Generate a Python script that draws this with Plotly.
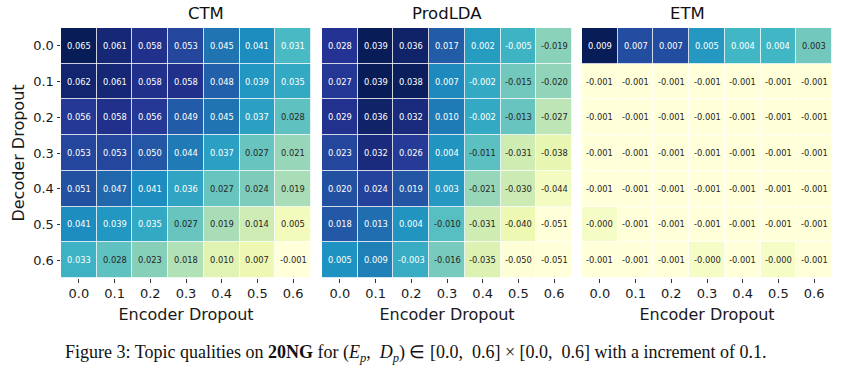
import plotly.graph_objects as go

dropouts = ["0.0", "0.1", "0.2", "0.3", "0.4", "0.5", "0.6"]
titles = ["CTM", "ProdLDA", "ETM"]

ctm = [
    [0.065, 0.061, 0.058, 0.053, 0.045, 0.041, 0.031],
    [0.062, 0.061, 0.058, 0.058, 0.048, 0.039, 0.035],
    [0.056, 0.058, 0.056, 0.049, 0.045, 0.037, 0.028],
    [0.053, 0.053, 0.050, 0.044, 0.037, 0.027, 0.021],
    [0.051, 0.047, 0.041, 0.036, 0.027, 0.024, 0.019],
    [0.041, 0.039, 0.035, 0.027, 0.019, 0.014, 0.005],
    [0.033, 0.028, 0.023, 0.018, 0.010, 0.007, -0.001],
]
prodlda = [
    [0.028, 0.039, 0.036, 0.017, 0.002, -0.005, -0.019],
    [0.027, 0.039, 0.038, 0.007, -0.002, -0.015, -0.020],
    [0.029, 0.036, 0.032, 0.010, -0.002, -0.013, -0.027],
    [0.023, 0.032, 0.026, 0.004, -0.011, -0.031, -0.038],
    [0.020, 0.024, 0.019, 0.003, -0.021, -0.030, -0.044],
    [0.018, 0.013, 0.004, -0.010, -0.031, -0.040, -0.051],
    [0.005, 0.009, -0.003, -0.016, -0.035, -0.050, -0.051],
]
etm = [
    [0.009, 0.007, 0.007, 0.005, 0.004, 0.004, 0.003],
    [-0.001, -0.001, -0.001, -0.001, -0.001, -0.001, -0.001],
    [-0.001, -0.001, -0.001, -0.001, -0.001, -0.001, -0.001],
    [-0.001, -0.001, -0.001, -0.001, -0.001, -0.001, -0.001],
    [-0.001, -0.001, -0.001, -0.001, -0.001, -0.001, -0.001],
    [-0.0004, -0.001, -0.001, -0.001, -0.001, -0.001, -0.001],
    [-0.001, -0.001, -0.001, -0.0004, -0.001, -0.0004, -0.001],
]
panels = [ctm, prodlda, etm]

ylgnbu = ["#ffffd9", "#edf8b1", "#c7e9b4", "#7fcdbb", "#41b6c4",
          "#1d91c0", "#225ea8", "#253494", "#081d58"]
colorscale = [[i / 8, c] for i, c in enumerate(ylgnbu)]


def hex2rgb(h):
    return tuple(int(h[i:i + 2], 16) / 255 for i in (1, 3, 5))


def interp(t):
    t = min(max(t, 0), 1) * 8
    i = min(int(t), 7)
    f = t - i
    a, b = hex2rgb(ylgnbu[i]), hex2rgb(ylgnbu[i + 1])
    return [a[k] + (b[k] - a[k]) * f for k in range(3)]


def lum(rgb):
    out = []
    for c in rgb:
        out.append(c / 12.92 if c <= 0.03928 else ((c + 0.055) / 1.055) ** 2.4)
    return 0.2126 * out[0] + 0.7152 * out[1] + 0.0722 * out[2]


W, H = 846, 372
xdoms = [(61, 311), (322, 572), (582, 832)]
ytop, ybot = 28, 278
ydom = [1 - ybot / H, 1 - ytop / H]

fig = go.Figure()
annotations = []
FONT = "DejaVu Sans"

for k, data in enumerate(panels):
    flat = [v for row in data for v in row]
    zmin, zmax = min(flat), max(flat)
    xa = "x" if k == 0 else f"x{k + 1}"
    ya = "y" if k == 0 else f"y{k + 1}"
    fig.add_trace(go.Heatmap(
        z=data, x=dropouts, y=dropouts, colorscale=colorscale,
        zmin=zmin, zmax=zmax, showscale=False, xgap=0.8, ygap=0.8,
        xaxis=xa, yaxis=ya, hoverinfo="skip"))
    for i, row in enumerate(data):
        for j, v in enumerate(row):
            t = (v - zmin) / (zmax - zmin)
            col = "white" if lum(interp(t)) <= 0.408 else "#262626"
            annotations.append(dict(
                x=j, y=i, xref=xa, yref=ya,
                text=f"{v:.3f}", showarrow=False,
                font=dict(family=FONT, size=8.3, color=col)))
    x0, x1 = xdoms[k]
    axkey = "xaxis" if k == 0 else f"xaxis{k + 1}"
    aykey = "yaxis" if k == 0 else f"yaxis{k + 1}"
    fig.layout[axkey] = dict(
        type="category", automargin=False,
        domain=[x0 / W, x1 / W], anchor=ya, showgrid=False, zeroline=False,
        ticks="outside", ticklen=3.5, tickwidth=1, tickcolor="#333",
        tickfont=dict(family=FONT, size=13, color="#1a1a1a"),
        title=dict(text="Encoder Dropout", standoff=8,
                   font=dict(family=FONT, size=16, color="#1a1a1a")),
        showline=False)
    ydict = dict(
        type="category", automargin=False,
        domain=ydom, anchor=xa, autorange="reversed", showgrid=False,
        zeroline=False, showline=False)
    if k == 0:
        ydict.update(
            ticks="outside", ticklen=3.5, tickwidth=1, tickcolor="#333",
            tickfont=dict(family=FONT, size=13, color="#1a1a1a"),
            title=dict(text="Decoder Dropout", standoff=4,
                       font=dict(family=FONT, size=16, color="#1a1a1a")))
    else:
        ydict.update(showticklabels=False, ticks="")
    fig.layout[aykey] = ydict
    annotations.append(dict(
        x=(x0 + x1) / 2 / W, y=1 - 14 / H, xref="paper", yref="paper",
        text=titles[k], showarrow=False, yanchor="middle",
        font=dict(family=FONT, size=16.5, color="#111")))

annotations.append(dict(
    x=416 / W, y=1 - 353 / H, xref="paper", yref="paper", showarrow=False,
    yanchor="middle",
    text=("Figure 3: Topic qualities on <b>20NG</b> for (<i>E<sub>p</sub></i>,&nbsp; "
          "<i>D<sub>p</sub></i>) ∈ [0.0,&nbsp; 0.6] × "
          "[0.0,&nbsp; 0.6] with a increment of 0.1."),
    font=dict(family="Liberation Serif", size=18, color="#111")))

fig.update_layout(
    width=W, height=H, margin=dict(l=0, r=0, t=0, b=0),
    paper_bgcolor="white", plot_bgcolor="white",
    annotations=annotations, showlegend=False)

fig.write_html("out.html", config={"displayModeBar": False},
               post_script="document.body.style.margin='0';")
